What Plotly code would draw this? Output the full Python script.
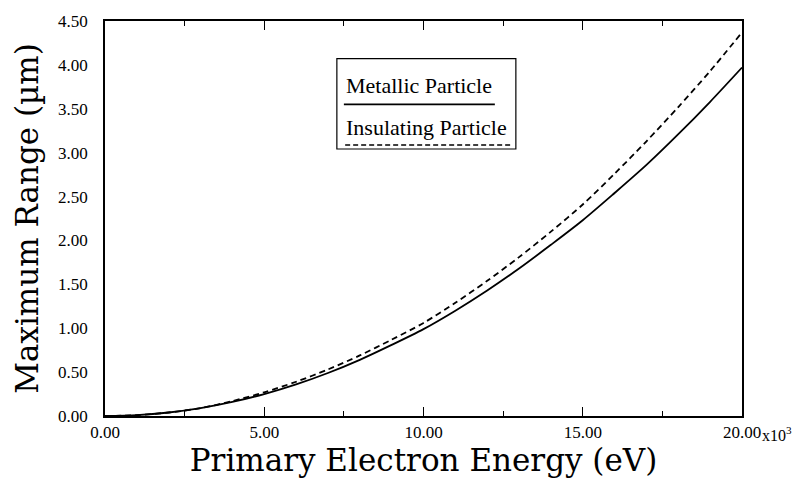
import plotly.graph_objects as go

# Primary electron energy (units of 10^3 eV)
energy_kev = [0, 1, 2, 3, 4, 5, 6, 7, 8, 9, 10, 11, 12, 13, 14, 15, 16, 17, 18, 19, 20]
# Maximum penetration range (um)
range_metallic = [0.00, 0.01, 0.04, 0.09, 0.16, 0.25, 0.36, 0.49, 0.64, 0.81, 0.99,
                  1.20, 1.43, 1.68, 1.95, 2.23, 2.54, 2.86, 3.21, 3.58, 3.97]
range_insulating = [0.00, 0.01, 0.04, 0.09, 0.17, 0.27, 0.39, 0.53, 0.69, 0.87, 1.06,
                    1.29, 1.54, 1.81, 2.10, 2.41, 2.76, 3.13, 3.52, 3.93, 4.37]

x_tickvals = [0, 5, 10, 15, 20]
x_ticktext = ["0.00", "5.00", "10.00", "15.00", "20.00"]
y_tickvals = [0, 0.5, 1.0, 1.5, 2.0, 2.5, 3.0, 3.5, 4.0, 4.5]
y_ticktext = ["0.00", "0.50", "1.00", "1.50", "2.00", "2.50", "3.00", "3.50", "4.00", "4.50"]

SERIF = "Liberation Serif"
WIDE_SERIF = "DejaVu Serif"
Y_RANGE = [0, 4.5]

fig = go.Figure()
fig.add_trace(go.Scatter(x=energy_kev, y=range_metallic, mode="lines", name="Metallic Particle",
                         line=dict(color="black", width=1.8, shape="spline", smoothing=0.8)))
fig.add_trace(go.Scatter(x=energy_kev, y=range_insulating, mode="lines", name="Insulating Particle",
                         line=dict(color="black", width=1.8, dash="6px,4px", shape="spline",
                                   smoothing=0.8)))

tick_font = dict(family=SERIF, size=17, color="black")

fig.update_xaxes(range=[0, 20], tickmode="array", tickvals=x_tickvals, ticktext=x_ticktext,
                 showline=True, linecolor="black", linewidth=1.5, mirror="ticks",
                 ticks="inside", ticklen=9, tickwidth=1.2, tickcolor="black",
                 showgrid=False, zeroline=False, tickfont=tick_font,
                 minor=dict(dtick=2.5, ticks="inside", ticklen=5, tickcolor="black", tickwidth=1),
                 title=dict(text="Primary Electron Energy (eV)", standoff=4,
                            font=dict(family=WIDE_SERIF, size=31, color="black")))

# Primary y axis carries the labels; a transparent outer tick keeps them clear of the frame
fig.update_yaxes(range=Y_RANGE, tickmode="array", tickvals=y_tickvals, ticktext=y_ticktext,
                 showline=True, linecolor="black", linewidth=1.5, mirror=True,
                 ticks="outside", ticklen=12, tickcolor="rgba(0,0,0,0)",
                 showgrid=False, zeroline=False, tickfont=tick_font,
                 title=dict(text="Maximum Range (\u00b5m)", standoff=10,
                            font=dict(family=WIDE_SERIF, size=31, color="black")))

# Overlay y axis draws the inward major/minor ticks on both sides
fig.update_layout(yaxis2=dict(overlaying="y", side="left", range=Y_RANGE,
                              tickmode="array", tickvals=y_tickvals, showticklabels=False,
                              showline=True, linecolor="black", linewidth=1.5, mirror="ticks",
                              ticks="inside", ticklen=9, tickwidth=1.2, tickcolor="black",
                              minor=dict(dtick=0.25, ticks="inside", ticklen=5,
                                         tickcolor="black", tickwidth=1),
                              showgrid=False, zeroline=False))

# Legend drawn as a framed box with sample lines under each label
shapes = [
    dict(type="rect", xref="paper", yref="paper", x0=0.364, x1=0.645, y0=0.676, y1=0.905,
         line=dict(color="black", width=1.2), fillcolor="white", layer="above"),
    dict(type="line", xref="paper", yref="paper", x0=0.375, x1=0.612, y0=0.789, y1=0.789,
         line=dict(color="black", width=1.6)),
    dict(type="line", xref="paper", yref="paper", x0=0.377, x1=0.636, y0=0.686, y1=0.686,
         line=dict(color="black", width=1.6, dash="5px,3px")),
]
annotations = [
    dict(text="Metallic Particle", xref="paper", yref="paper", x=0.375, y=0.836,
         xanchor="left", yanchor="middle", showarrow=False,
         font=dict(family=SERIF, size=22, color="black")),
    dict(text="Insulating Particle", xref="paper", yref="paper", x=0.375, y=0.730,
         xanchor="left", yanchor="middle", showarrow=False,
         font=dict(family=SERIF, size=22, color="black")),
    dict(text="x10<sup>3</sup>", xref="paper", yref="paper", x=1.029, y=-0.014,
         xanchor="left", yanchor="top", showarrow=False,
         font=dict(family=SERIF, size=16, color="black")),
]

fig.update_layout(width=795, height=480, margin=dict(l=105, r=53, t=18, b=64),
                  paper_bgcolor="white", plot_bgcolor="white", showlegend=False,
                  shapes=shapes, annotations=annotations)

fig.write_html("out.html")
